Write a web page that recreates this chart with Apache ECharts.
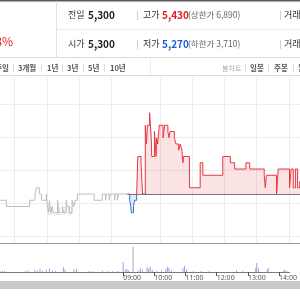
<!DOCTYPE html>
<html>
<head>
<meta charset="utf-8">
<script src="https://cdn.jsdelivr.net/npm/echarts@6/dist/echarts.min.js"></script>
<style>
html,body{margin:0;padding:0;background:#fff;}
#chart{width:300px;height:300px;}
</style>
</head>
<body>
<div id="chart"></div>
<script>
// 전일 종가 (기준선), 상한가
var prevClose = 5300;
var upperLimit = 6890;

// 전일 체결가 (회색 구간)
var prevTimes  = ['11:30','11:45','12:28','12:38','12:41','12:46','12:50','12:59','13:01','13:03','13:05','13:07','13:10','13:12','13:20','13:22','13:29','13:31','13:36','13:38','13:42','13:47','13:50','13:53','13:57','14:28','14:43','14:49','14:51','14:56','14:58','15:06','15:07','15:11','15:13','15:30'];
var prevPrices = [5290,5280,5290,5300,5310,5300,5290,5300,5280,5270,5290,5270,5280,5270,5290,5270,5280,5270,5290,5280,5270,5290,5280,5290,5300,5290,5300,5290,5300,5290,5300,5290,5300,5290,5300,5300];

// 당일 체결가
var todayTimes  = ['09:00','09:04','09:06','09:07','09:11','09:13','09:17','09:19','09:25','09:28','09:33','09:35','09:37','09:41','09:44','09:45','09:50','09:53','09:54','09:56','09:59','10:06','10:09','10:15','10:17','10:19','10:27','10:30','10:35','10:38','10:41','10:43','10:44','10:55','11:15','11:20','11:57','12:11','12:19','12:40','12:47','13:14','13:16','13:18','13:37','13:40','14:01','14:04','14:08','14:12','14:16','14:20','14:25'];
var todayPrices = [5300,5290,5280,5270,5280,5290,5300,5360,5350,5300,5410,5380,5410,5430,5390,5360,5400,5360,5390,5380,5410,5390,5410,5400,5390,5400,5390,5380,5370,5380,5370,5350,5360,5310,5350,5330,5360,5350,5340,5350,5340,5330,5310,5330,5300,5340,5310,5340,5310,5340,5310,5320,5320];

// 거래량
var prevVolTimes = ['11:33','11:38','11:42','12:22','12:27','12:40','12:45','12:50','12:55','13:02','13:08','13:14','13:20','13:35','13:38','13:55','14:00','14:25','14:32','14:50','15:00','15:10','15:20'];
var prevVols     = [700,500,900,600,1100,1400,900,2000,800,1500,2600,1200,900,3200,1800,1500,2200,700,600,800,600,500,700];
var todayVolTimes = ['09:00','09:04','09:07','09:10','09:19','09:30','09:33','09:37','09:46','09:49','09:52','09:56','10:05','10:14','10:22','10:25','10:28','10:33','10:55','10:58','11:02','11:15','11:30','11:45','12:38','12:50','13:15','13:17','13:20','13:37','13:39','14:09','14:11','14:15'];
var todayVols     = [6900,1400,2100,1200,17500,1000,2600,1800,3500,2300,3800,1600,700,900,2100,3600,2800,1200,2600,4100,1900,600,700,500,1200,500,3000,6200,2400,1500,2700,1100,1600,700];

// 시간 눈금
var prevGridHours  = ['12:00','13:00','14:00','15:00'];
var todayGridHours = ['10:00','11:00','12:00','13:00','14:00'];
var todayLabelHours = ['09:00','10:00','11:00','12:00','13:00','14:00'];

var SESSION = 390; // 09:00~15:30

function toMin(t){
	var p = t.split(':');
	return (+p[0] - 9) * 60 + (+p[1]);
}
function prevX(t){ return toMin(t); }
function todayX(t){ return SESSION + toMin(t); }
function pad(n){ return n < 10 ? '0' + n : '' + n; }

var prevData = prevTimes.map(function(t, i){ return [prevX(t), prevPrices[i]]; });
var todayData = todayTimes.map(function(t, i){ return [todayX(t), todayPrices[i]]; });
var volData = prevVolTimes.map(function(t, i){ return [prevX(t), prevVols[i]]; })
	.concat(todayVolTimes.map(function(t, i){ return [todayX(t), todayVols[i]]; }));

var gridX = prevGridHours.map(prevX).concat(todayGridHours.map(todayX));
var labelX = todayLabelHours.map(todayX);

var X_MIN = 153, X_MAX = 710.5;
var KR = '"Noto Sans CJK KR", sans-serif';

function txt(s, x, y, font, color, align){
	return {type:'text', silent:true, style:{text:s, x:x, y:y, font:font, fill:color, textAlign:align || 'left', textVerticalAlign:'middle'}};
}
function ln(x1, y1, x2, y2, color){
	return {type:'line', silent:true, shape:{x1:x1, y1:y1, x2:x2, y2:y2}, style:{stroke:color, lineWidth:1}};
}

var graphics = [
	{type:'rect', silent:true, shape:{x:0, y:0, width:300, height:1.5}, style:{fill:'#5c5c5c'}},
	ln(56.5, 1, 56.5, 57, '#e2e2e2'),
	ln(57, 29.5, 300, 29.5, '#ececec'),
	ln(0, 57.5, 300, 57.5, '#dcdcdc'),
	ln(0, 75.5, 300, 75.5, '#dcdcdc'),
	ln(150.5, 58, 150.5, 75, '#ececec'),
	txt('+0.38%', 13, 41, '12px ' + KR, '#e5181f', 'right'),
	// 1행
	txt('전일', 68, 15, '9px ' + KR, '#333'),
	txt('5,300', 88, 15, 'bold 10px ' + KR, '#222'),
	ln(137.5, 11, 137.5, 20, '#cfcfcf'),
	txt('고가', 143, 15, '9px ' + KR, '#333'),
	txt('5,430', 162, 15, 'bold 10px ' + KR, '#e5181f'),
	txt('(상한가 6,890)', 188, 15, '8.5px ' + KR, '#666'),
	ln(280.5, 11, 280.5, 20, '#cfcfcf'),
	txt('거래량', 284, 15, '9px ' + KR, '#333'),
	// 2행
	txt('시가', 68, 44, '9px ' + KR, '#333'),
	txt('5,300', 88, 44, 'bold 10px ' + KR, '#222'),
	ln(137.5, 40, 137.5, 49, '#cfcfcf'),
	txt('저가', 143, 44, '9px ' + KR, '#333'),
	txt('5,270', 162, 44, 'bold 10px ' + KR, '#1b5fd1'),
	txt('(하한가 3,710)', 188, 44, '8.5px ' + KR, '#666'),
	ln(280.5, 40, 280.5, 49, '#cfcfcf'),
	txt('거래대금', 284, 44, '9px ' + KR, '#333'),
	// 기간 탭
	txt('1주일', 9, 68, 'bold 7.5px ' + KR, '#555', 'right'),
	ln(13.5, 64, 13.5, 72, '#dedede'),
	txt('3개월', 18, 68, 'bold 7.5px ' + KR, '#555'),
	ln(41.5, 64, 41.5, 72, '#dedede'),
	txt('1년', 47, 68, 'bold 7.5px ' + KR, '#555'),
	ln(62.5, 64, 62.5, 72, '#dedede'),
	txt('3년', 67, 68, 'bold 7.5px ' + KR, '#555'),
	ln(83.5, 64, 83.5, 72, '#dedede'),
	txt('5년', 88, 68, 'bold 7.5px ' + KR, '#555'),
	ln(104.5, 64, 104.5, 72, '#dedede'),
	txt('10년', 110, 68, 'bold 7.5px ' + KR, '#555'),
	txt('봉차트', 222, 68, '7px ' + KR, '#aaa'),
	ln(245.5, 64, 245.5, 72, '#dedede'),
	txt('일봉', 250, 68, 'bold 7.5px ' + KR, '#555'),
	ln(268.5, 64, 268.5, 72, '#dedede'),
	txt('주봉', 274, 68, 'bold 7.5px ' + KR, '#555'),
	ln(293.5, 64, 293.5, 72, '#dedede'),
	txt('월봉', 298, 68, 'bold 7.5px ' + KR, '#555'),
	txt('5,270', 60, 211, '10px ' + KR, '#dadada', 'center'),
	// 구분선, 스크롤바
	ln(0, 243.5, 300, 243.5, '#9a9a9a'),
	{type:'rect', silent:true, shape:{x:0, y:281, width:300, height:8}, style:{fill:'#c9c9c9'}}
];

var chart = echarts.init(document.getElementById('chart'), null, {renderer:'canvas'});

var option = {
	animation: false,
	backgroundColor: '#fff',
	grid: [
		{left:0, right:0, top:75, height:168},
		{left:0, right:0, top:243, height:29}
	],
	xAxis: [
		{
			type:'value', gridIndex:0, min:X_MIN, max:X_MAX,
			axisLine:{show:false},
			axisTick:{show:false, customValues:gridX},
			axisLabel:{show:false},
			splitLine:{show:true, lineStyle:{color:'#ededed', width:1}}
		},
		{
			type:'value', gridIndex:1, min:X_MIN, max:X_MAX,
			axisLine:{show:true, lineStyle:{color:'#7a7a7a', width:1}},
			axisTick:{show:true, length:4, customValues:labelX, lineStyle:{color:'#555'}},
			axisLabel:{
				show:true, customValues:labelX, fontSize:7, color:'#555', align:'left', margin:2,
				fontFamily:'"Noto Sans", sans-serif',
				formatter:function(v){
					var m = Math.round(v - SESSION);
					return pad(9 + Math.floor(m / 60)) + ':' + pad(m % 60);
				}
			},
			splitLine:{show:false}
		}
	],
	yAxis: [
		{type:'value', gridIndex:0, min:5221.6, max:5490.4, show:false},
		{
			type:'value', gridIndex:0, min:0, max:168,
			axisLine:{show:false},
			axisTick:{show:false, customValues:[7, 40, 73, 106, 139]},
			axisLabel:{show:false},
			splitLine:{show:true, lineStyle:{color:'#ededed', width:1}}
		},
		{type:'value', gridIndex:1, min:0, max:20000, show:false}
	],
	visualMap: {
		show:false,
		type:'piecewise',
		seriesIndex:1,
		dimension:1,
		pieces:[
			{lt:prevClose, color:'#2f6fd6'},
			{gte:prevClose, lte:upperLimit, color:'#e63740'},
			{gt:upperLimit, color:'#e63740'}
		]
	},
	series: [
		{
			name:'전일',
			type:'line', xAxisIndex:0, yAxisIndex:0,
			step:'end', symbol:'none', silent:true,
			lineStyle:{color:'#bdbdbd', width:1},
			data:prevData
		},
		{
			name:'당일',
			type:'line', xAxisIndex:0, yAxisIndex:0,
			step:'end', symbol:'none', silent:true,
			lineStyle:{width:1},
			areaStyle:{origin:prevClose, opacity:0.14},
			markLine:{
				silent:true, symbol:'none', label:{show:false},
				lineStyle:{color:'#777', width:1, type:'solid'},
				data:[[{coord:[SESSION, prevClose]}, {coord:[X_MAX, prevClose]}]]
			},
			data:todayData
		},
		{
			name:'거래량',
			type:'bar', xAxisIndex:1, yAxisIndex:2,
			barWidth:1, silent:true,
			itemStyle:{color:'#a89ed8'},
			data:volData
		}
	],
	graphic: graphics
};

chart.setOption(option);
</script>
</body>
</html>
